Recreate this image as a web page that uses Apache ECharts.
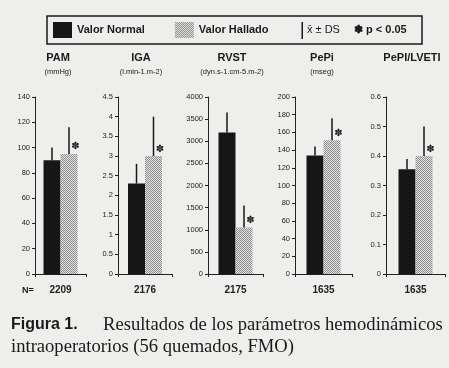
<!DOCTYPE html>
<html><head><meta charset="utf-8">
<script src="https://cdn.jsdelivr.net/npm/echarts@6/dist/echarts.min.js"></script>
<style>html,body{margin:0;padding:0;background:#eeeeec}#c{width:449px;height:368px}</style>
</head><body><div id="c"></div>
<script>
// ---- data ----
const panelTitles = ['PAM', 'IGA', 'RVST', 'PePi', 'PePI/LVETI'];
const panelUnits = ['(mmHg)', '(l.min-1.m-2)', '(dyn.s-1.cm-5.m-2)', '(mseg)', ''];
const nValues = ['2209', '2176', '2175', '1635', '1635'];
const normalMean = [90, 2.3, 3200, 134, 0.355];
const normalSD = [10, 0.5, 450, 10, 0.035];
const halladoMean = [95, 3.0, 1050, 151, 0.40];
const halladoSD = [21, 1.0, 500, 25, 0.10];
const axisMax = [140, 4.5, 4000, 200, 0.6];
const axisStep = [20, 0.5, 500, 20, 0.1];
const significant = [true, true, true, true, true];

// ---- layout / style ----
const gridLayout = [[35, 51], [118, 54], [208, 55], [295, 57], [386, 59]];
const titleCenters = [58, 141, 232, 322, 412];
const BAR_W = 17;
const GRID_TOP = 97, GRID_H = 177;
const FONT = "'Liberation Sans', Arial, sans-serif";

const pat = document.createElement('canvas');
pat.width = 2; pat.height = 2;
const pc = pat.getContext('2d');
pc.fillStyle = '#e4e4e2'; pc.fillRect(0, 0, 2, 2);
pc.fillStyle = '#8c8c8c'; pc.fillRect(0, 0, 1, 1); pc.fillRect(1, 1, 1, 1);
const hatch = { image: pat, repeat: 'repeat' };

const chart = echarts.init(document.getElementById('c'), null, { renderer: 'canvas' });

const grids = [], xAxes = [], yAxes = [], series = [], graphics = [];
for (let i = 0; i < 5; i++) {
  grids.push({ left: gridLayout[i][0], width: gridLayout[i][1], top: GRID_TOP, height: GRID_H });
  xAxes.push({
    type: 'category', gridIndex: i, data: [nValues[i]], boundaryGap: true,
    axisLine: { lineStyle: { color: '#222', width: 1 } },
    axisTick: { show: true, length: 3, lineStyle: { color: '#222' } },
    axisLabel: { margin: 11, fontSize: 10, fontWeight: 'bold', color: '#222', fontFamily: FONT }
  });
  yAxes.push({
    type: 'value', gridIndex: i, min: 0, max: axisMax[i], interval: axisStep[i],
    axisLine: { show: true, lineStyle: { color: '#222', width: 1 } },
    axisTick: { show: true, length: 3, lineStyle: { color: '#222' } },
    axisLabel: { fontSize: 7.5, color: '#222', margin: 5, fontFamily: FONT, formatter: v => String(+v.toFixed(2)) },
    splitLine: { show: false }
  });
  series.push({
    name: 'Valor Normal', type: 'bar', xAxisIndex: i, yAxisIndex: i, barWidth: BAR_W, barGap: '0%',
    itemStyle: { color: '#161616' }, data: [normalMean[i]], z: 2
  });
  series.push({
    name: 'Valor Hallado', type: 'bar', xAxisIndex: i, yAxisIndex: i, barWidth: BAR_W, barGap: '0%',
    itemStyle: { color: hatch }, data: [halladoMean[i]], z: 2
  });
  series.push({
    type: 'custom', xAxisIndex: i, yAxisIndex: i, z: 3, silent: true,
    data: [[0, normalMean[i], normalMean[i] + normalSD[i]]],
    renderItem: (p, api) => {
      const a = api.coord([api.value(0), api.value(1)]);
      const b = api.coord([api.value(0), api.value(2)]);
      const x = a[0] - BAR_W / 2;
      return { type: 'line', shape: { x1: x, y1: a[1], x2: x, y2: b[1] }, style: { stroke: '#161616', lineWidth: 1.5 } };
    }
  });
  series.push({
    type: 'custom', xAxisIndex: i, yAxisIndex: i, z: 3, silent: true,
    data: [[0, halladoMean[i], halladoMean[i] + halladoSD[i], significant[i] ? 1 : 0]],
    renderItem: (p, api) => {
      const a = api.coord([api.value(0), api.value(1)]);
      const b = api.coord([api.value(0), api.value(2)]);
      const x = a[0] + BAR_W / 2;
      const children = [{ type: 'line', shape: { x1: x, y1: a[1], x2: x, y2: b[1] }, style: { stroke: '#161616', lineWidth: 1.5 } }];
      if (api.value(3)) {
        children.push({ type: 'text', style: { text: '✽', x: a[0] + BAR_W - 2, y: a[1] - 7, fill: '#1a1a1a', font: 'bold 10px DejaVu Sans', align: 'center', verticalAlign: 'middle' } });
      }
      return { type: 'group', children };
    }
  });
  graphics.push({ type: 'text', x: titleCenters[i], y: 58, style: { text: panelTitles[i], font: 'bold 11px ' + FONT, fill: '#1a1a1a', align: 'center', verticalAlign: 'middle' } });
  if (panelUnits[i]) {
    graphics.push({ type: 'text', x: titleCenters[i], y: 72, style: { text: panelUnits[i], font: '7.5px ' + FONT, fill: '#1a1a1a', align: 'center', verticalAlign: 'middle' } });
  }
}

// legend box and extra legend items
graphics.push({ type: 'rect', shape: { x: 47, y: 16, width: 375, height: 28 }, style: { fill: 'none', stroke: '#1a1a1a', lineWidth: 1.5 }, z: 0 });
graphics.push({ type: 'rect', shape: { x: 301.5, y: 22, width: 1.5, height: 17 }, style: { fill: '#1a1a1a' } });
graphics.push({ type: 'text', x: 307, y: 30, style: { text: 'x\u0304 \u00b1 DS', font: '11px ' + FONT, fill: '#1a1a1a', verticalAlign: 'middle' } });
graphics.push({ type: 'text', x: 354, y: 30, style: { text: '✽ p < 0.05', font: 'bold 11px ' + FONT, fill: '#1a1a1a', verticalAlign: 'middle' } });
graphics.push({ type: 'text', x: 22, y: 291, style: { text: 'N=', font: 'bold 9px ' + FONT, fill: '#1a1a1a', verticalAlign: 'middle' } });
// caption
graphics.push({ type: 'text', x: 11, y: 325, style: { text: 'Figura 1.', font: "bold 16px 'Liberation Sans Narrow', 'Liberation Sans', Arial", fill: '#1a1a1a', verticalAlign: 'middle' } });
graphics.push({ type: 'text', x: 103, y: 325, style: { text: 'Resultados de los parámetros hemodinámicos', font: "18.6px 'Liberation Serif', serif", fill: '#1a1a1a', verticalAlign: 'middle' } });
graphics.push({ type: 'text', x: 11, y: 347, style: { text: 'intraoperatorios (56 quemados, FMO)', font: "18.6px 'Liberation Serif', serif", fill: '#1a1a1a', verticalAlign: 'middle' } });

chart.setOption({
  backgroundColor: '#eeeeec',
  animation: false,
  legend: {
    data: ['Valor Normal', 'Valor Hallado'], left: 53, top: 22, padding: 0, icon: 'rect',
    itemWidth: 19, itemHeight: 16, itemGap: 30,
    textStyle: { fontSize: 11, fontWeight: 'bold', color: '#1a1a1a', fontFamily: FONT }
  },
  grid: grids, xAxis: xAxes, yAxis: yAxes, series: series, graphic: graphics
});
</script>
</body></html>
